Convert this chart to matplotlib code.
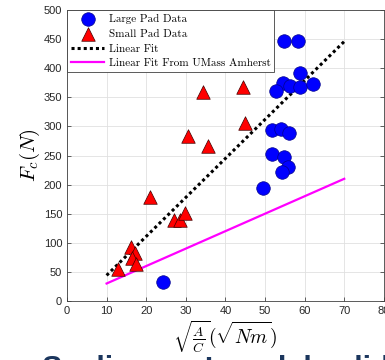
import matplotlib
matplotlib.use("Agg")
import matplotlib.pyplot as plt
import numpy as np

plt.rcParams["mathtext.fontset"] = "cm"

# ─── Data ────────────────────────────────────────────────────────────────────
large_x = [54.8, 58.2, 58.8, 54.5, 56.3, 58.8, 62.2, 52.7, 51.7, 54.0,
           56.1, 51.7, 54.9, 55.9, 54.3, 49.6, 24.3]
large_y = [447, 447, 391, 375, 370, 367, 373, 361, 294, 295,
           288, 252, 248, 230, 222, 195, 32]

small_x = [12.9, 16.1, 17.2, 16.3, 17.4, 21.0, 27.0, 28.5, 29.8, 30.5,
           35.5, 34.3, 44.5, 45.0]
small_y = [55, 93, 83, 73, 64, 178, 139, 140, 152, 283,
           267, 360, 367, 306]

fit_range = [10, 70]
fit_slope, fit_icpt = 6.7, -23.0          # linear fit of all data
umass_slope, umass_icpt = 3.0, 0.0        # UMass Amherst fit

xticks = np.arange(0, 81, 10)
yticks = np.arange(0, 501, 50)

# ─── Plot ────────────────────────────────────────────────────────────────────
fig = plt.figure(figsize=(3.85, 3.6), dpi=100)
ax = fig.add_axes([0.174, 0.164, 0.823, 0.808])

xf = np.array(fit_range, dtype=float)
ax.plot(xf, fit_slope * xf + fit_icpt, color="black", linestyle=(0, (1, 1)),
        linewidth=2.2, label="Linear Fit", zorder=2)
ax.plot(xf, umass_slope * xf + umass_icpt, color="#ff00ff", linewidth=1.6,
        label="Linear Fit From UMass Amherst", zorder=2)
ax.scatter(large_x, large_y, s=95, color="#0000ff", edgecolors="#00008b",
           linewidths=0.5, label="Large Pad Data", zorder=3)
ax.scatter(small_x, small_y, s=95, marker="^", color="#ff0000",
           edgecolors="#400000", linewidths=0.5, label="Small Pad Data", zorder=3)

ax.set_xlim(0, 80)
ax.set_ylim(0, 500)
ax.set_xticks(xticks)
ax.set_yticks(yticks)
ax.grid(color="#e0e0e0", linewidth=0.6)
ax.set_axisbelow(True)
ax.tick_params(direction="in", length=3, width=0.5, labelsize=8,
               colors="#262626", right=True, top=False)
for lab in ax.get_xticklabels() + ax.get_yticklabels():
    lab.set_fontfamily("Liberation Sans")
for s in ax.spines.values():
    s.set_color("#404040")
    s.set_linewidth(0.6)

ax.set_xlabel(r"$\sqrt{\frac{A}{C}}(\sqrt{Nm})$", fontsize=14, labelpad=2,
              bbox=dict(facecolor="white", edgecolor="none", pad=1))
ax.set_ylabel(r"$F_c(N)$", fontsize=15, labelpad=1)

handles, labels = ax.get_legend_handles_labels()
order = [2, 3, 0, 1]
leg = ax.legend([handles[i] for i in order], [labels[i] for i in order],
                loc="upper left", borderaxespad=0.0, fancybox=False,
                framealpha=1, edgecolor="#404040", handlelength=3.0,
                handletextpad=0.4, labelspacing=0.45, borderpad=0.35,
                prop={"family": "cmr10", "size": 8.0})
leg.get_frame().set_linewidth(0.6)
leg.set_zorder(5)

# slide title peeking in below the figure (drawn under the axes/xlabel)
fig.text(0.11, -0.05, "Scaling and model validation", color="#1b365d",
         fontsize=22, fontweight="bold", family="Liberation Sans",
         va="baseline", ha="left", zorder=-1)

fig.savefig("out.png", dpi=100)
